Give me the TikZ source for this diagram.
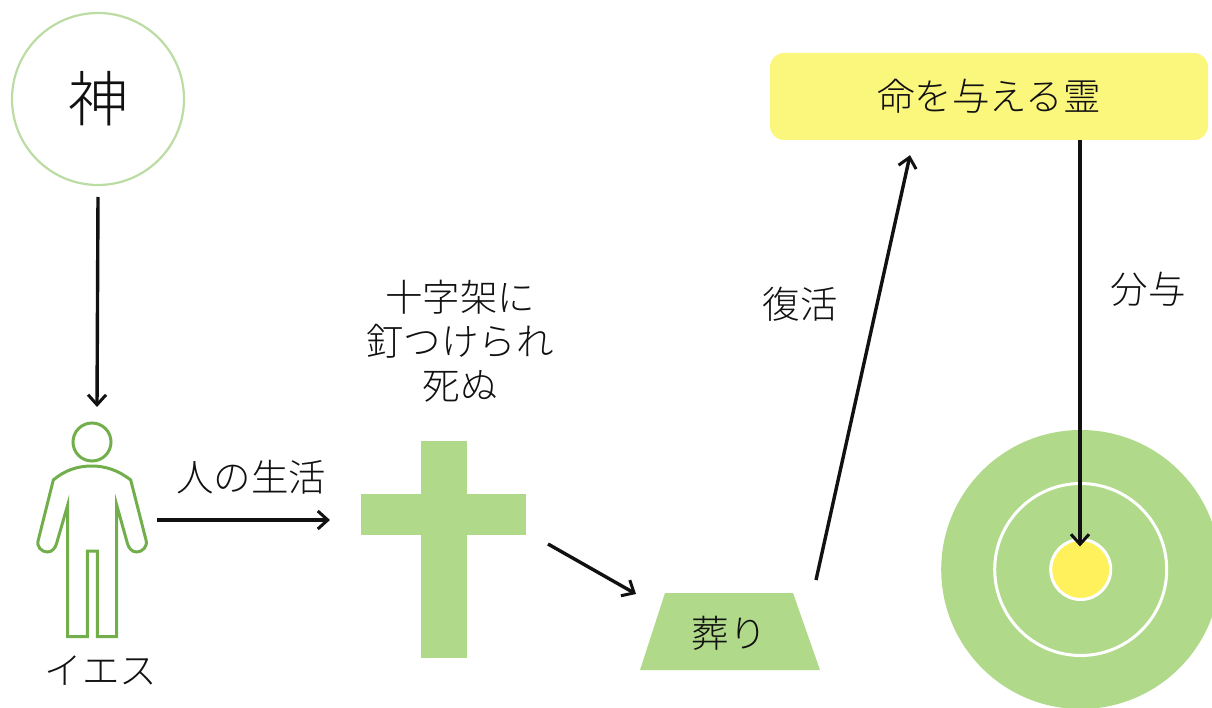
\documentclass[tikz,border=0pt]{standalone}
\usepackage{fontspec}
\usetikzlibrary{arrows.meta,calc}
\newfontfamily\cjk{Noto Sans CJK JP Light}
\definecolor{leaf}{HTML}{B0DA8A}
\definecolor{leafline}{HTML}{72AF4C}
\definecolor{paleline}{HTML}{BBDCA2}
\definecolor{lemon}{HTML}{FBF67C}
\definecolor{sun}{HTML}{FFF15C}
\definecolor{ink}{HTML}{111111}
\tikzset{
  jp/.style={font=\fontsize{37.5}{44}\selectfont\cjk,text=ink,inner sep=0pt,align=center},
  link/.style={draw=ink,line width=3.4pt,-{Straight Barb[length=10pt,width=18pt,line width=3pt]}},
  body/.style={draw=leafline,line width=3pt,line join=miter}
}
\begin{document}
\begin{tikzpicture}[x=1pt,y=-1pt]
\useasboundingbox (0,0) rectangle (1212,708);
\clip (0,0) rectangle (1212,708);
% God
\node[circle,draw=paleline,line width=2.2pt,minimum size=172pt,inner sep=0pt,outer sep=0pt,jp,font=\fontsize{60}{60}\selectfont\cjk] (god) at (98,99) {神};
% Jesus figure
\node[inner sep=0pt,outer sep=0pt,minimum width=108pt,minimum height=214pt] (person) at (92,530) {};
\draw[body] (92,442) circle[radius=19];
\draw[body] (67.7,505) -- (67.7,636.7) -- (87.3,636.7) -- (87.3,551) -- (97.3,551) -- (97.3,636.7) -- (116.7,636.7) -- (116.7,505) -- (127.3,543)
  .. controls (128.5,548) and (132,552) .. (136.5,552) .. controls (142,552) and (148,547) .. (146,540)
  -- (130.7,480) .. controls (118,470) and (105,466) .. (91.7,466) .. controls (78,466) and (65,470) .. (53.3,480)
  -- (38.3,540) .. controls (36,547) and (42,552) .. (47.5,552) .. controls (52,552) and (55.5,548) .. (56.7,543) -- cycle;
\node[jp] (jesus) at (101,671) {イエス};
% Cross
\fill[leaf] (421,441) rectangle (467,658);
\fill[leaf] (361,494) rectangle (526,535);
\node[inner sep=0pt,outer sep=0pt,minimum width=165pt,minimum height=217pt] (cross) at (443.5,549.5) {};
\node[jp] (crosstext) at (460,341) {十字架に\\釘つけられ\\死ぬ};
% Burial
\fill[leaf] (665,593) -- (793,593) -- (820,670) -- (640,670) -- cycle;
\node[jp] (burial) at (729,633) {葬り};
% Spirit
\node[rectangle,rounded corners=14pt,fill=lemon,minimum width=438pt,minimum height=87pt,jp] (spirit) at (989,96.5) {命を与える霊};
% Target
\fill[leaf] (1080.7,569.5) circle[radius=139.5];
\draw[white,line width=3pt] (1080.7,569.5) circle[radius=86];
\node[circle,fill=sun,draw=white,line width=3pt,minimum size=60pt,inner sep=0pt,outer sep=0pt] (core) at (1080.7,569.5) {};
% Labels
\node[jp] (life) at (251,477) {人の生活};
\node[jp] (resurrection) at (800,304) {復活};
\node[jp] (impart) at (1148,289) {分与};
% Connectors
\draw[link] ([yshift=-12pt]god.south) -- ([shift={(5pt,16pt)}]person.north);
\draw[link] ([shift={(11pt,10pt)}]person.east) -- ([shift={(-31pt,29.5pt)}]cross.west);
\draw[link] ([shift={(22pt,5.5pt)}]cross.east) -- ([shift={(-93pt,39pt)}]burial.center);
\draw[link] ([shift={(87pt,53pt)}]burial.center) -- ([shift={(-79pt,-15pt)}]spirit.south);
\draw[link] ([xshift=91pt]spirit.south) -- ([xshift=-0.7pt,yshift=-7pt]core.north);
\end{tikzpicture}
\end{document}
